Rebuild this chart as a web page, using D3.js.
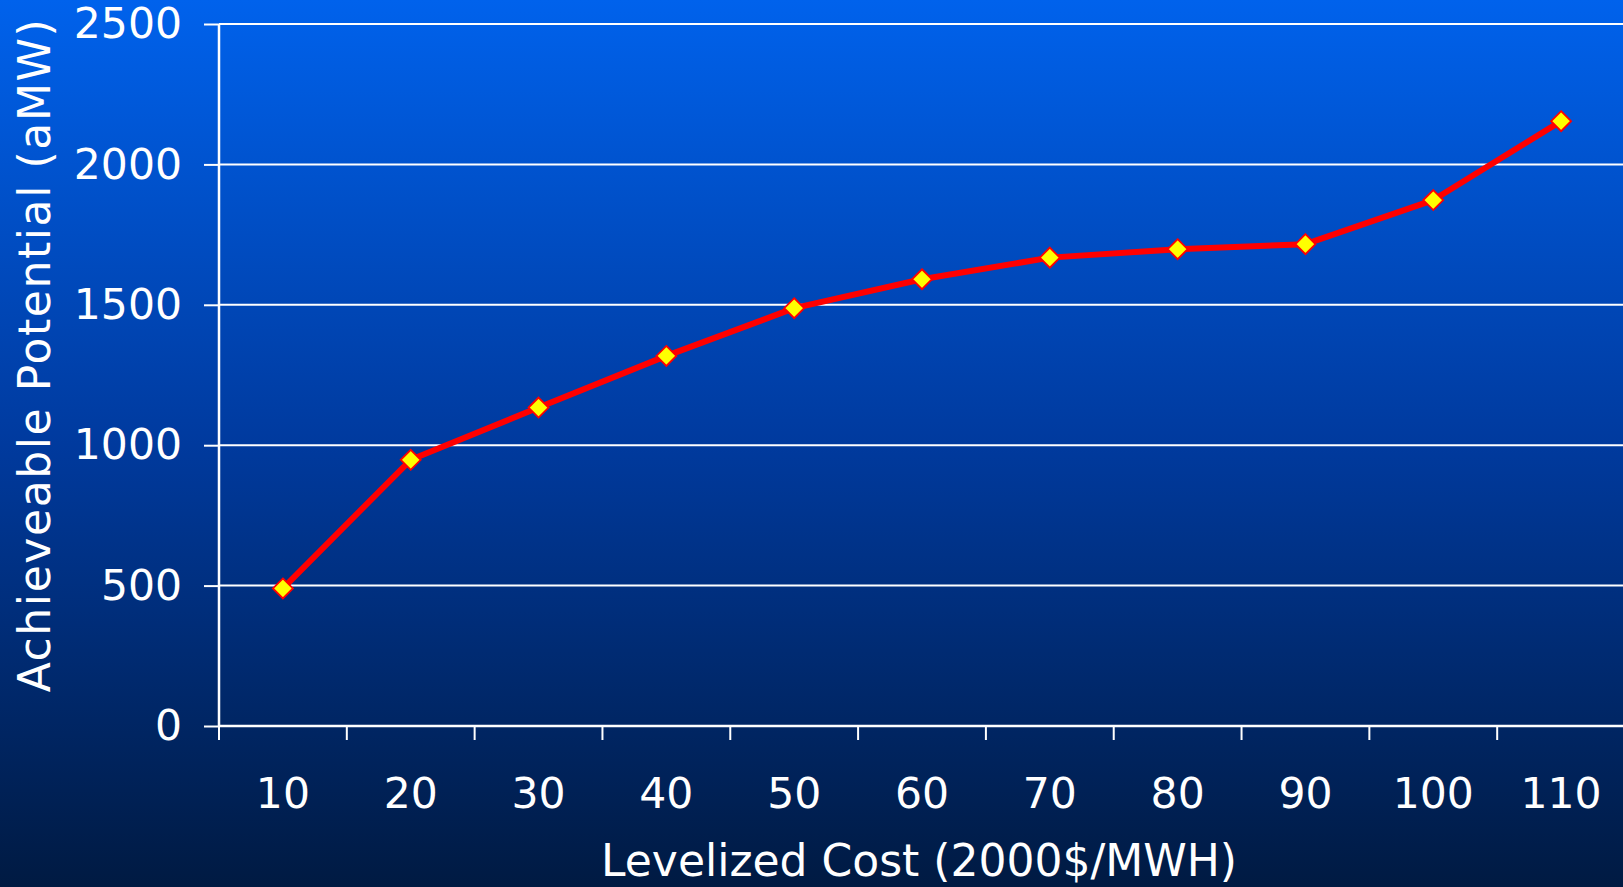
<!DOCTYPE html>
<html><head><meta charset="utf-8">
<script src="https://cdn.jsdelivr.net/npm/d3@7"></script>
<style>html,body{margin:0;padding:0;overflow:hidden;background:#00225a}</style>
</head><body>
<script>
const categories = ["10","20","30","40","50","60","70","80","90","100","110"];
const values = [490, 948, 1134, 1318, 1488, 1591, 1668, 1698, 1716, 1873, 2154];
const yTicks = [0, 500, 1000, 1500, 2000, 2500];
const xTitle = "Levelized Cost (2000$/MWH)";
const yTitle = "Achieveable Potential (aMW)";

(function(){
const W = 1623, H = 887;
const svg = d3.select("body").append("svg").attr("width", W).attr("height", H);
const defs = svg.append("defs");
const grad = defs.append("linearGradient").attr("id","bg").attr("x1",0).attr("y1",0).attr("x2",0).attr("y2",1);
grad.append("stop").attr("offset","0%").attr("stop-color","#0062ec");
grad.append("stop").attr("offset","50%").attr("stop-color","#003a9e");
grad.append("stop").attr("offset","100%").attr("stop-color","#001a42");
svg.append("rect").attr("width",W).attr("height",H).attr("fill","url(#bg)");

const mL = 219, mR = 1625, mT = 24, mB = 726;
const x = d3.scaleBand().domain(categories).range([mL, mR]);
const y = d3.scaleLinear().domain([0, 2500]).range([mB, mT]);
const font = "'DejaVu Sans', Verdana, sans-serif";

const yAxis = svg.append("g").attr("transform",`translate(${mL},0)`)
  .call(d3.axisLeft(y).tickValues(yTicks).tickSize(15).tickPadding(22).tickFormat(d3.format("d")));
yAxis.select(".domain").remove();
yAxis.selectAll(".tick line").attr("stroke","#fff").attr("stroke-width",2);
yAxis.selectAll(".tick text").attr("fill","#fff").attr("font-family",font).attr("font-size",42.5);
svg.append("g").selectAll("line").data(yTicks).join("line")
  .attr("x1", mL).attr("x2", W).attr("y1", d=>y(d)).attr("y2", d=>y(d))
  .attr("stroke","#fff").attr("stroke-width",2);
svg.append("line").attr("x1",mL).attr("x2",mL).attr("y1",mT).attr("y2",mB)
  .attr("stroke","#fff").attr("stroke-width",2.5);

const xAxis = svg.append("g").attr("transform",`translate(0,${mB})`)
  .call(d3.axisBottom(x).tickSize(0).tickPadding(0));
xAxis.select(".domain").remove();
xAxis.selectAll(".tick text").attr("fill","#fff").attr("font-family",font).attr("font-size",42.5)
  .attr("dy", null).attr("y", 82);
svg.append("line").attr("x1",mL).attr("x2",W).attr("y1",mB).attr("y2",mB)
  .attr("stroke","#fff").attr("stroke-width",2.5);
const bounds = categories.map(c => x(c));
svg.append("g").selectAll("line").data(bounds).join("line")
  .attr("x1", d=>d).attr("x2", d=>d).attr("y1", mB).attr("y2", mB+14)
  .attr("stroke","#fff").attr("stroke-width",2);

svg.append("text").attr("x", 919).attr("y", 876).attr("text-anchor","middle")
  .attr("fill","#fff").attr("font-family",font).attr("font-size",44).text(xTitle);
svg.append("text").attr("transform","translate(50,355) rotate(-90)").attr("text-anchor","middle")
  .attr("fill","#fff").attr("font-family",font).attr("font-size",44)
  .attr("letter-spacing", 1.6).text(yTitle);

const cx = c => x(c) + x.bandwidth()/2;
const line = d3.line().x((d,i)=>cx(categories[i])).y(d=>y(d));
svg.append("path").datum(values).attr("d", line).attr("fill","none")
  .attr("stroke","#ff0000").attr("stroke-width",6).attr("stroke-linejoin","round");
svg.append("g").selectAll("path").data(values).join("path")
  .attr("transform",(d,i)=>`translate(${cx(categories[i])},${y(d)})`)
  .attr("d","M0,-10L10,0L0,10L-10,0Z")
  .attr("fill","#ffff00").attr("stroke","#ff0000").attr("stroke-width",1.8);
})();
</script>
</body></html>
